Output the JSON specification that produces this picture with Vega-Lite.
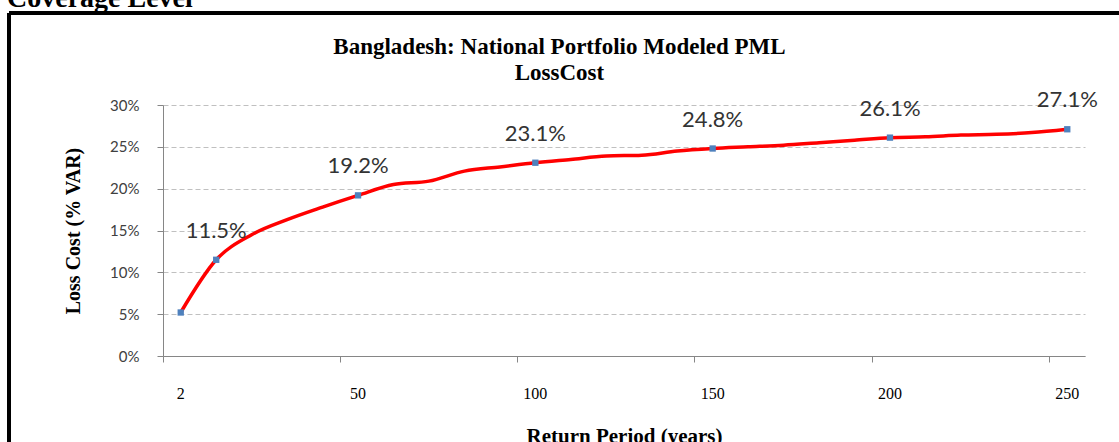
{
  "$schema": "https://vega.github.io/schema/vega-lite/v6.json",
  "width": 1110,
  "height": 429,
  "autosize": {"type": "none"},
  "padding": {"left": 9, "top": 13, "right": 0, "bottom": 0},
  "background": "white",
  "title": {
    "text": "Coverage Level",
    "anchor": "start",
    "frame": "group",
    "font": "Liberation Serif",
    "fontSize": 28,
    "fontWeight": "bold",
    "color": "#000000",
    "dx": -2,
    "offset": 0
  },
  "data": {
    "values": [
      {"rp": 2, "loss": 0.052, "marker": true, "label": false},
      {"rp": 10, "loss": 0.115, "marker": true, "label": true},
      {"rp": 20, "loss": 0.145, "marker": false, "label": false},
      {"rp": 30, "loss": 0.163, "marker": false, "label": false},
      {"rp": 40, "loss": 0.178, "marker": false, "label": false},
      {"rp": 50, "loss": 0.192, "marker": true, "label": true},
      {"rp": 60, "loss": 0.205, "marker": false, "label": false},
      {"rp": 70, "loss": 0.209, "marker": false, "label": false},
      {"rp": 80, "loss": 0.221, "marker": false, "label": false},
      {"rp": 90, "loss": 0.226, "marker": false, "label": false},
      {"rp": 100, "loss": 0.231, "marker": true, "label": true},
      {"rp": 110, "loss": 0.235, "marker": false, "label": false},
      {"rp": 120, "loss": 0.239, "marker": false, "label": false},
      {"rp": 130, "loss": 0.240, "marker": false, "label": false},
      {"rp": 140, "loss": 0.245, "marker": false, "label": false},
      {"rp": 150, "loss": 0.248, "marker": true, "label": true},
      {"rp": 160, "loss": 0.250, "marker": false, "label": false},
      {"rp": 170, "loss": 0.252, "marker": false, "label": false},
      {"rp": 180, "loss": 0.255, "marker": false, "label": false},
      {"rp": 190, "loss": 0.258, "marker": false, "label": false},
      {"rp": 200, "loss": 0.261, "marker": true, "label": true},
      {"rp": 210, "loss": 0.262, "marker": false, "label": false},
      {"rp": 220, "loss": 0.264, "marker": false, "label": false},
      {"rp": 230, "loss": 0.265, "marker": false, "label": false},
      {"rp": 240, "loss": 0.267, "marker": false, "label": false},
      {"rp": 250, "loss": 0.271, "marker": true, "label": true}
    ]
  },
  "layer": [
    {
      "mark": {"type": "line", "color": "#ff0000", "strokeWidth": 3.5, "interpolate": "monotone"},
      "encoding": {
        "x": {
          "field": "rp",
          "type": "ordinal",
          "scale": {"type": "band", "paddingInner": 0, "paddingOuter": 0, "range": [154, 1076]},
          "axis": {
            "orient": "bottom",
            "offset": -86,
            "values": [2, 50, 100, 150, 200, 250],
            "bandPosition": 0,
            "labelOffset": 0,
            "labelAngle": 0,
            "tickSize": 6,
            "labelPadding": 23,
            "labelFont": "Liberation Serif",
            "labelFontSize": 16,
            "labelColor": "#000000",
            "grid": false,
            "domainColor": "#868686",
            "tickColor": "#868686",
            "title": "Return Period (years)",
            "titleFont": "Liberation Serif",
            "titleFontSize": 21,
            "titleFontWeight": "bold",
            "titleColor": "#000000",
            "titleY": 69,
            "titleBaseline": "top"
          }
        },
        "y": {
          "field": "loss",
          "type": "quantitative",
          "scale": {"domain": [0, 0.3], "range": [343, 92], "nice": false, "zero": true},
          "axis": {
            "offset": -154,
            "values": [0, 0.05, 0.1, 0.15, 0.2, 0.25, 0.3],
            "format": ".0%",
            "grid": true,
            "gridDash": [5, 3],
            "gridColor": "#c0c0c0",
            "gridWidth": 1,
            "tickSize": 6,
            "labelPadding": 18,
            "labelFont": "Lato",
            "labelFontSize": 15,
            "labelColor": "#404040",
            "domainColor": "#868686",
            "tickColor": "#868686",
            "title": "Loss Cost (% VAR)",
            "titleFont": "Liberation Serif",
            "titleFontSize": 20,
            "titleFontWeight": "bold",
            "titleColor": "#000000",
            "titleX": -90,
            "titleBaseline": "middle"
          }
        }
      }
    },
    {
      "transform": [{"filter": "datum.label"}],
      "mark": {"type": "text", "dy": -29, "fontSize": 22, "font": "Lato", "color": "#333333", "baseline": "middle", "align": "center"},
      "encoding": {
        "x": {
          "field": "rp",
          "type": "ordinal",
          "axis": {
            "orient": "top",
            "labels": false,
            "ticks": false,
            "domain": false,
            "grid": false,
            "title": ["Bangladesh: National Portfolio Modeled PML", "LossCost"],
            "titleX": 550,
            "titleY": 40,
            "titleAlign": "center",
            "titleBaseline": "alphabetic",
            "titleFont": "Liberation Serif",
            "titleFontSize": 23,
            "titleFontWeight": "bold",
            "titleColor": "#000000",
            "titleLineHeight": 26
          }
        },
        "y": {"field": "loss", "type": "quantitative"},
        "text": {"field": "loss", "type": "quantitative", "format": ".1%"}
      }
    },
    {
      "transform": [{"filter": "datum.marker"}],
      "mark": {"type": "square", "color": "#4F81BD", "size": 40, "opacity": 1},
      "encoding": {
        "x": {"field": "rp", "type": "ordinal", "axis": null},
        "y": {"field": "loss", "type": "quantitative"}
      }
    }
  ],
  "resolve": {"axis": {"x": "independent"}},
  "config": {
    "view": {"stroke": "#000000", "strokeWidth": 4, "strokeDash": [1110, 1539, 429, 0]}
  }
}
